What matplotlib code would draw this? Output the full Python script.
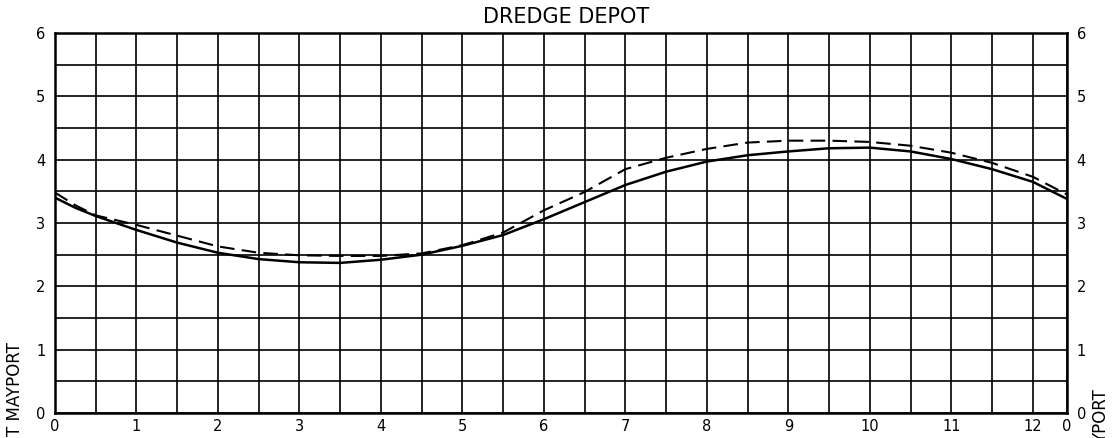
import matplotlib
matplotlib.use("Agg")
import matplotlib.pyplot as plt
from matplotlib.ticker import MultipleLocator

# hours after high water (one tidal cycle is about 12.42 hours)
hours = [0, 0.25, 0.5, 1, 1.5, 2, 2.5, 3, 3.5, 4, 4.5, 5, 5.5, 6, 6.5, 7,
         7.5, 8, 8.5, 9, 9.5, 10, 10.5, 11, 11.5, 12, 12.42]

# tide height in feet, two curves
solid_height = [3.40, 3.24, 3.11, 2.89, 2.69, 2.53, 2.43, 2.38, 2.37, 2.42,
                2.50, 2.64, 2.81, 3.06, 3.33, 3.60, 3.81, 3.97, 4.07, 4.13,
                4.18, 4.19, 4.13, 4.01, 3.85, 3.65, 3.38]
dashed_height = [3.48, 3.28, 3.12, 2.97, 2.80, 2.63, 2.53, 2.49, 2.48, 2.48,
                 2.52, 2.65, 2.85, 3.20, 3.49, 3.85, 4.03, 4.17, 4.27, 4.30,
                 4.30, 4.28, 4.22, 4.11, 3.95, 3.73, 3.45]

x_ticks = list(range(13)) + [12.42]
x_labels = [str(i) for i in range(13)] + ["0"]
y_ticks = [0, 1, 2, 3, 4, 5, 6]

W, H = 1115, 438
fig = plt.figure(figsize=(W / 100, H / 100), dpi=100)
ax = fig.add_axes([55 / W, 1 - 413 / H, (1067 - 55) / W, (413 - 33) / H])

ax.plot(hours, solid_height, color="black", lw=1.8, zorder=3)
ax.plot(hours, dashed_height, color="black", lw=1.5, dashes=(7, 3.5), zorder=3)

ax.set_xlim(0, 12.42)
ax.set_ylim(0, 6)
ax.set_xticks(x_ticks)
ax.set_xticklabels(x_labels)
ax.set_yticks(y_ticks)
ax.xaxis.set_minor_locator(MultipleLocator(0.5))
ax.yaxis.set_minor_locator(MultipleLocator(0.5))
ax.grid(which="both", color="black", lw=1.2)
ax.set_axisbelow(True)

for s in ax.spines.values():
    s.set_linewidth(1.8)

ax.tick_params(which="both", length=0, labelsize=10.5, pad=7,
               labelright=True, right=False)
ax.tick_params(axis="x", pad=4)

# text round the chart
fig.text(566 / W, 1 - 17 / H, "DREDGE DEPOT", ha="center", va="center",
         fontsize=15)
fig.text(15 / W, 1 - 436 / H, "T MAYPORT", rotation=90, ha="center",
         va="bottom", fontsize=12)
fig.text(1101 / W, 1 - 443 / H, "YPORT", rotation=90, ha="center",
         va="bottom", fontsize=12)

fig.savefig("out.png", dpi=100)
